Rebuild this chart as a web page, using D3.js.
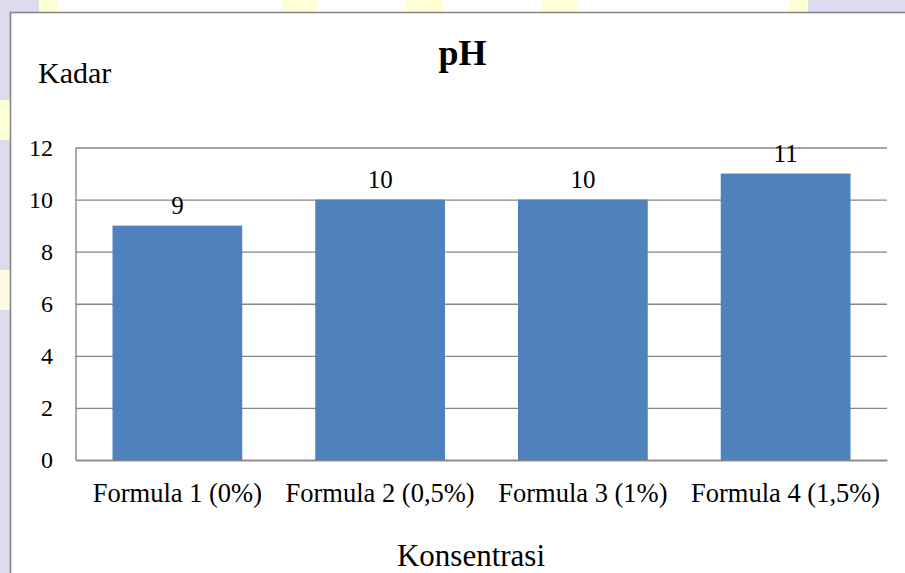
<!DOCTYPE html>
<html>
<head>
<meta charset="utf-8">
<script src="https://cdn.jsdelivr.net/npm/d3@7"></script>
<style>
  body { margin: 0; background: #fff; }
  svg text { font-family: "Liberation Serif", "Times New Roman", "DejaVu Serif", serif; fill: #000; }
</style>
</head>
<body>
<div id="chart-area"></div>
<script>
// DATA
// =====
var categories = ['Formula 1 (0%)', 'Formula 2 (0,5%)', 'Formula 3 (1%)', 'Formula 4 (1,5%)'];
var phValues = [9, 10, 10, 11];
var yTicks = [0, 2, 4, 6, 8, 10, 12];

var FONT = '"Liberation Serif", "Times New Roman", "DejaVu Serif", serif';

// CANVAS
// =======
var W = 905, H = 573;
var margin = { left: 76, right: 18, top: 147.5, bottom: 113 };
var width = W - margin.left - margin.right,
    height = H - margin.top - margin.bottom;

var svg = d3.select('#chart-area')
    .append('svg')
        .attr('width', W)
        .attr('height', H);

// watermark-ish background outside the chart frame
svg.append('rect').attr('x', 0).attr('y', 0).attr('width', 39).attr('height', H).attr('fill', '#dcdcee');
svg.append('rect').attr('x', 808).attr('y', 0).attr('width', 97).attr('height', 12).attr('fill', '#dcdcee');
[[39, 19], [281, 36], [406, 37], [541, 36], [789, 19]].forEach(function (p) {
    svg.append('rect').attr('x', p[0]).attr('y', 0).attr('width', p[1]).attr('height', 12).attr('fill', '#ffffd6');
});
svg.append('rect').attr('x', 0).attr('y', 100).attr('width', 10).attr('height', 40).attr('fill', '#ffffd6');
svg.append('rect').attr('x', 0).attr('y', 270).attr('width', 10).attr('height', 40).attr('fill', '#fffbe0');

// chart frame
svg.append('rect')
    .attr('x', 10.5)
    .attr('y', 12.5)
    .attr('width', 940)
    .attr('height', 600)
    .attr('fill', '#fff')
    .attr('stroke', '#878787')
    .attr('stroke-width', 1.6);

var g = svg.append('g')
    .attr('transform', 'translate(' + margin.left + ',' + margin.top + ')');

// SCALES
// =======
var x = d3.scaleBand()
    .domain(categories)
    .range([0, width])
    .paddingInner(0.36)
    .paddingOuter(0.18);

var y = d3.scaleLinear()
    .domain([0, 12])
    .range([height, 0]);

// Y axis + gridlines
var yAxisCall = d3.axisLeft(y)
    .tickValues(yTicks)
    .tickSize(-width)
    .tickPadding(23);

var yAxis = g.append('g')
    .attr('class', 'y axis')
    .attr('font-family', FONT)
    .call(yAxisCall);
yAxis.select('.domain').remove();
yAxis.selectAll('line')
    .attr('stroke', '#878787')
    .attr('stroke-width', 1.4);
yAxis.selectAll('text')
    .style('font-family', FONT)
    .attr('font-size', '24px')
    .attr('dy', '0.33em');

// axis lines
g.append('line')
    .attr('x1', 0).attr('x2', 0)
    .attr('y1', 0).attr('y2', height)
    .attr('stroke', '#878787')
    .attr('stroke-width', 1.4);

// X axis
var xAxisCall = d3.axisBottom(x)
    .tickSize(0)
    .tickPadding(0);
var xAxis = g.append('g')
    .attr('class', 'x axis')
    .attr('font-family', FONT)
    .attr('transform', 'translate(0,' + height + ')')
    .call(xAxisCall);
xAxis.select('.domain')
    .attr('stroke', '#878787')
    .attr('stroke-width', 1.4);
xAxis.selectAll('text')
    .style('font-family', FONT)
    .attr('font-size', '26.5px')
    .attr('dy', 0)
    .attr('y', 42);

// BARS
// =====
var bars = g.selectAll('rect.bar')
    .data(phValues);

bars.enter()
    .append('rect')
    .attr('class', 'bar')
    .attr('x', function (d, i) { return x(categories[i]); })
    .attr('y', function (d) { return y(d); })
    .attr('width', x.bandwidth())
    .attr('height', function (d) { return height - y(d); })
    .attr('fill', '#4f81bd');

// value labels
g.selectAll('text.value')
    .data(phValues)
    .enter()
    .append('text')
    .attr('class', 'value')
    .style('font-family', FONT)
    .attr('x', function (d, i) { return x(categories[i]) + x.bandwidth() / 2; })
    .attr('y', function (d) { return y(d) - 12; })
    .attr('text-anchor', 'middle')
    .attr('font-size', '25px')
    .text(function (d) { return d; });

// LABELS
// =======
svg.append('text')
    .style('font-family', FONT)
    .attr('x', 462.5)
    .attr('y', 65)
    .attr('text-anchor', 'middle')
    .attr('font-size', '36px')
    .attr('font-weight', 'bold')
    .text('pH');

svg.append('text')
    .style('font-family', FONT)
    .attr('x', 38)
    .attr('y', 83)
    .attr('font-size', '30px')
    .text('Kadar');

svg.append('text')
    .style('font-family', FONT)
    .attr('x', 471)
    .attr('y', 566)
    .attr('text-anchor', 'middle')
    .attr('font-size', '31px')
    .text('Konsentrasi');
</script>
</body>
</html>
